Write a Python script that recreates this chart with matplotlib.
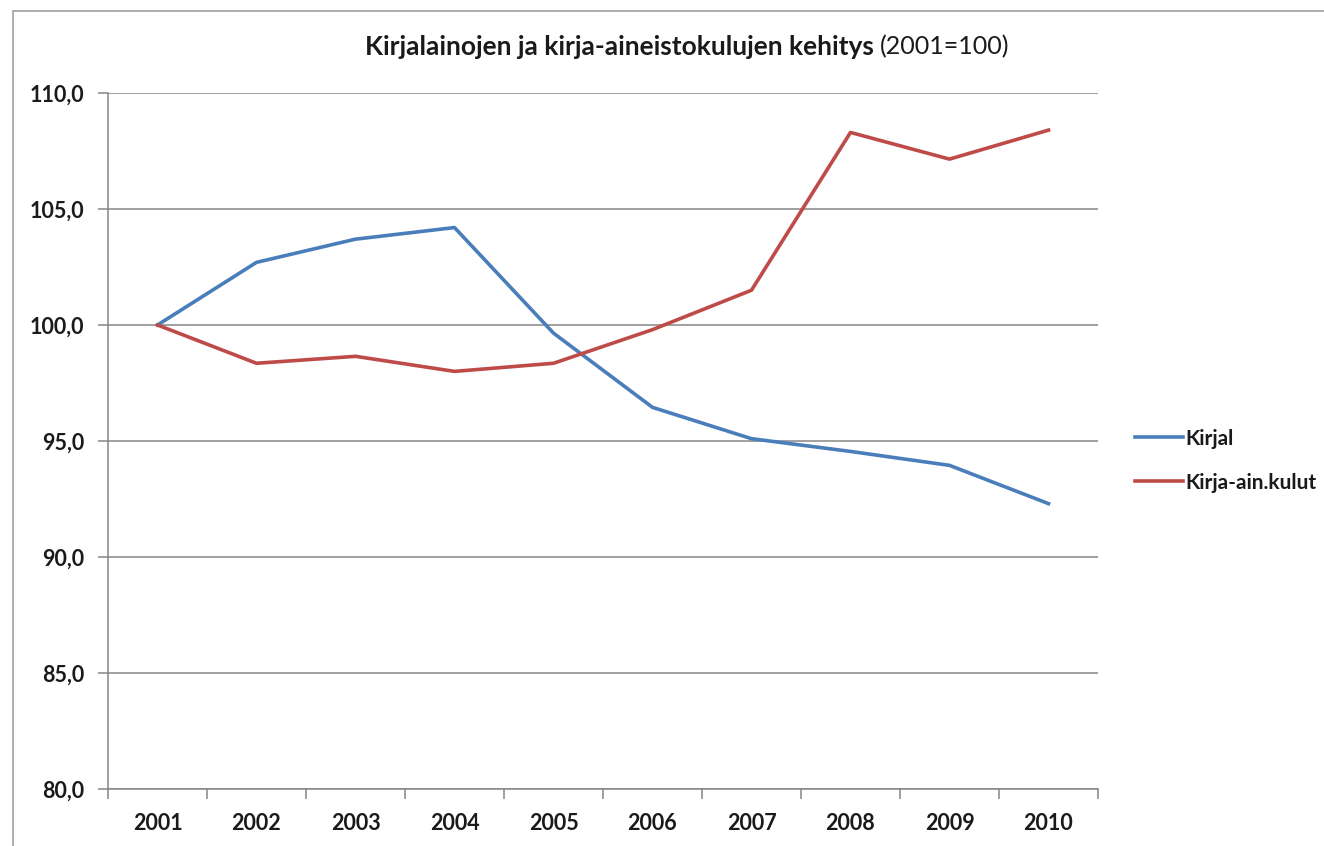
import matplotlib
matplotlib.use("Agg")
import matplotlib.pyplot as plt
import matplotlib.ticker as ticker
from matplotlib.patches import Rectangle

years = ["2001", "2002", "2003", "2004", "2005", "2006", "2007", "2008", "2009", "2010"]
kirjal = [100.0, 102.7, 103.7, 104.2, 99.65, 96.45, 95.1, 94.55, 93.95, 92.3]
kulut = [100.0, 98.35, 98.65, 98.0, 98.35, 99.8, 101.5, 108.3, 107.15, 108.4]
series_names = ["Kirjal", "Kirja-ain.kulut"]
y_ticks = [80, 85, 90, 95, 100, 105, 110]

plt.rcParams['font.family'] = ['Lato', 'DejaVu Sans']

W, H = 1324, 846
fig = plt.figure(figsize=(W / 100, H / 100), dpi=100)
fig.patch.set_facecolor('white')

# outer chart border (cropped on right and bottom)
fig.patches.append(Rectangle((13 / W, -0.1), 1.2, 1 - 11 / H + 0.1, transform=fig.transFigure,
                             fill=False, edgecolor='#a0a0a0', linewidth=1.2))

ax = fig.add_axes([108 / W, 1 - 789 / H, (1098 - 108) / W, (789 - 93) / H])

x = list(range(len(years)))
ax.plot(x, kirjal, color='#4a7ebb', linewidth=2.6, label=series_names[0], solid_joinstyle='round')
ax.plot(x, kulut, color='#be4b48', linewidth=2.6, label=series_names[1], solid_joinstyle='round')

ax.set_xlim(-0.5, len(years) - 0.5)
ax.set_ylim(80, 110)
ax.set_yticks(y_ticks)
ax.yaxis.set_major_formatter(ticker.FuncFormatter(lambda v, p: f"{v:.1f}".replace('.', ',')))
ax.grid(axis='y', color='#868686', linewidth=1.1)
ax.set_axisbelow(True)

ax.set_xticks(x)
ax.set_xticklabels(years)
ax.set_xticks([i - 0.5 for i in range(len(years) + 1)], minor=True)
ax.tick_params(axis='x', which='major', length=0, pad=17)
ax.tick_params(axis='x', which='minor', length=7, color='#868686', width=1.1)
ax.tick_params(axis='y', length=7, color='#868686', width=1.1, pad=10)
for lbl in ax.get_xticklabels() + ax.get_yticklabels():
    lbl.set_fontweight('bold')
    lbl.set_fontsize(15.5)
    lbl.set_color('#1a1a1a')

for s in ['top', 'right']:
    ax.spines[s].set_visible(False)
for s in ['left', 'bottom']:
    ax.spines[s].set_color('#868686')
    ax.spines[s].set_linewidth(1.1)

# title: bold part + normal part
fig.text(874 / W, 1 - 47 / H, "Kirjalainojen ja kirja-aineistokulujen kehitys", ha='right', va='center',
         fontsize=19, fontweight='bold', color='#1a1a1a')
fig.text(880 / W, 1 - 47 / H, "(2001=100)", ha='left', va='center', fontsize=18, color='#1a1a1a')

leg = fig.legend(loc='upper left', bbox_to_anchor=(1116 / W, 1 - 410 / H), frameon=False,
                 fontsize=15, handlelength=2.3, handletextpad=0.12, labelspacing=1.15)
for t in leg.get_texts():
    t.set_fontweight('bold')
    t.set_color('#1a1a1a')

fig.savefig("out.png", dpi=100)
